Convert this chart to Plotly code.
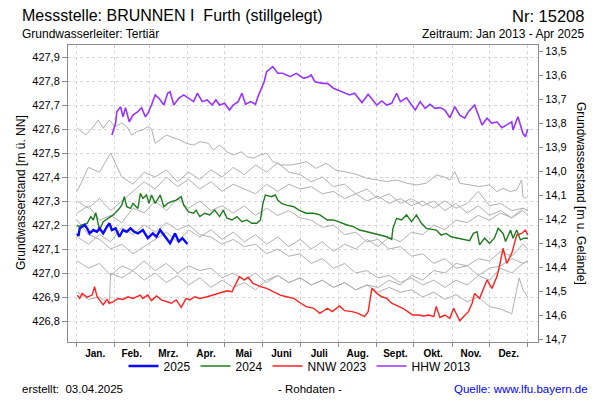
import plotly.graph_objects as go

# ---------------- data ----------------
MONTH_LABELS = ["Jan.", "Feb.", "Mrz.", "Apr.", "Mai", "Juni", "Juli", "Aug.", "Sept.", "Okt.", "Nov.", "Dez."]
MONTH_STARTS = [0, 31, 59, 90, 120, 151, 181, 212, 243, 273, 304, 334, 365]
GROUND = 441.425  # Geländehöhe [m ü. NN]

Y25_DAYS = [1, 2, 3, 5, 7, 9, 11, 14, 17, 19, 22, 25, 27, 29, 32, 35, 38, 41, 44, 47, 50, 54, 58, 62, 65, 68, 71, 76, 80, 83, 86, 90]
Y25_VALS = [427.165, 427.154, 427.186, 427.193, 427.200, 427.186, 427.165, 427.179, 427.172, 427.186, 427.165, 427.193,
            427.207, 427.179, 427.186, 427.151, 427.179, 427.172, 427.186, 427.172, 427.165, 427.179, 427.145, 427.165,
            427.151, 427.179, 427.158, 427.124, 427.165, 427.131, 427.145, 427.121]

Y24_DAYS = [1, 2, 5, 9, 12, 14, 16, 18, 19, 22, 26, 30, 34, 37, 39, 41, 44, 46, 50, 52, 54, 57, 59, 61, 64, 68, 71, 74,
            77, 81, 85, 87, 91, 95, 97, 100, 104, 108, 112, 116, 119, 122, 126, 130, 134, 138, 142, 146, 149, 151, 153,
            158, 161, 163, 166, 170, 176, 180, 186, 192, 197, 203, 208, 213, 219, 224, 229, 235, 240, 246, 251, 255,
            256, 259, 263, 267, 271, 275, 279, 283, 287, 291, 295, 299, 303, 308, 313, 318, 321, 324, 326, 330, 334,
            338, 341, 345, 347, 351, 353, 356, 359, 362, 365]
Y24_VALS = [427.200, 427.193, 427.200, 427.207, 427.235, 427.221, 427.251, 427.207, 427.179, 427.214, 427.228, 427.242,
            427.262, 427.283, 427.318, 427.276, 427.269, 427.290, 427.269, 427.332, 427.311, 427.325, 427.290, 427.325,
            427.290, 427.325, 427.276, 427.290, 427.297, 427.304, 427.318, 427.283, 427.255, 427.249, 427.262, 427.235,
            427.249, 427.242, 427.262, 427.235, 427.262, 427.228, 427.221, 427.235, 427.214, 427.221, 427.207, 427.207,
            427.221, 427.290, 427.325, 427.318, 427.325, 427.304, 427.290, 427.283, 427.276, 427.262, 427.249, 427.249,
            427.242, 427.221, 427.221, 427.210, 427.200, 427.193, 427.179, 427.172, 427.165, 427.158, 427.151, 427.140,
            427.186, 427.228, 427.221, 427.242, 427.214, 427.242, 427.207, 427.186, 427.182, 427.179, 427.158, 427.165,
            427.151, 427.145, 427.140, 427.135, 427.165, 427.172, 427.117, 427.145, 427.124, 427.145, 427.186, 427.165,
            427.131, 427.179, 427.145, 427.179, 427.138, 427.145, 427.145]

NNW_DAYS = [1, 3, 5, 9, 13, 15, 17, 19, 22, 25, 27, 30, 34, 38, 42, 46, 52, 54, 58, 61, 65, 69, 73, 77, 81, 85, 89, 92,
            96, 100, 106, 111, 116, 122, 126, 129, 132, 136, 139, 143, 149, 154, 159, 165, 170, 176, 181, 186, 192, 197,
            203, 207, 213, 217, 223, 228, 233, 236, 239, 243, 247, 251, 255, 260, 264, 268, 272, 277, 281, 285, 289,
            291, 294, 298, 302, 305, 308, 310, 313, 317, 320, 322, 326, 329, 332, 336, 340, 342, 345, 348, 352, 356,
            360, 363, 365]
NNW_VALS = [426.908, 426.894, 426.915, 426.899, 426.908, 426.943, 426.901, 426.888, 426.867, 426.890, 426.874, 426.880,
            426.894, 426.890, 426.901, 426.894, 426.908, 426.894, 426.908, 426.885, 426.904, 426.888, 426.880, 426.874,
            426.888, 426.857, 426.894, 426.888, 426.901, 426.894, 426.901, 426.908, 426.915, 426.926, 426.922, 426.957,
            426.985, 426.971, 426.982, 426.957, 426.943, 426.936, 426.922, 426.908, 426.901, 426.894, 426.876, 426.860,
            426.853, 426.832, 426.853, 426.839, 426.863, 426.843, 426.839, 426.832, 426.818, 426.839, 426.936, 426.915,
            426.901, 426.894, 426.874, 426.863, 426.853, 426.839, 426.825, 426.825, 426.821, 426.825, 426.818, 426.861,
            426.815, 426.825, 426.811, 426.853, 426.818, 426.801, 426.818, 426.839, 426.874, 426.915, 426.894, 426.929,
            426.971, 426.936, 426.985, 427.026, 427.103, 427.040, 427.082, 427.158, 427.165, 427.179, 427.158]

HHW_DAYS = [29, 32, 33, 36, 38, 40, 43, 46, 50, 53, 56, 58, 61, 64, 67, 71, 74, 76, 79, 83, 87, 91, 95, 98, 102, 106,
            110, 113, 116, 120, 124, 127, 131, 134, 137, 141, 145, 147, 150, 152, 154, 159, 163, 167, 173, 178, 184,
            188, 190, 193, 199, 203, 208, 212, 216, 221, 225, 231, 236, 243, 247, 251, 255, 259, 262, 267, 274, 278,
            282, 286, 290, 294, 298, 302, 306, 310, 314, 317, 322, 328, 332, 336, 340, 344, 348, 352, 353, 357, 361,
            363, 365]
HHW_VALS = [427.575, 427.624, 427.672, 427.693, 427.651, 427.689, 427.630, 427.658, 427.672, 427.689, 427.651, 427.665,
            427.700, 427.742, 427.728, 427.700, 427.749, 427.755, 427.700, 427.728, 427.742, 427.728, 427.714, 427.749,
            427.714, 427.721, 427.700, 427.721, 427.700, 427.707, 427.679, 427.700, 427.714, 427.749, 427.703, 427.714,
            427.703, 427.735, 427.769, 427.797, 427.839, 427.860, 427.832, 427.832, 427.818, 427.832, 427.811, 427.818,
            427.825, 427.797, 427.790, 427.790, 427.770, 427.762, 427.755, 427.742, 427.749, 427.710, 427.745, 427.700,
            427.717, 427.700, 427.707, 427.749, 427.714, 427.730, 427.679, 427.714, 427.686, 427.703, 427.686, 427.689,
            427.679, 427.647, 427.693, 427.658, 427.645, 427.672, 427.700, 427.617, 427.645, 427.624, 427.630, 427.605,
            427.617, 427.630, 427.596, 427.651, 427.582, 427.568, 427.600]

# other years (grey)
G1_DAYS = [1, 8, 14, 18, 22, 27, 31, 37, 41, 45, 49, 54, 58, 61, 64, 68, 73, 80, 84, 89, 95, 100, 107, 111, 116, 122,
           127, 134, 138, 143, 149, 154, 159, 165, 173, 181, 186, 194, 202, 210, 219, 224, 235, 243, 251, 259, 267,
           275, 283, 291, 297, 302, 306, 310, 318, 326, 334, 340, 345, 351, 356, 360, 361, 364]
G1_VALS = [427.603, 427.575, 427.610, 427.638, 427.603, 427.638, 427.610, 427.624, 427.610, 427.575, 427.589, 427.596,
           427.610, 427.600, 427.540, 427.554, 427.575, 427.561, 427.554, 427.540, 427.533, 427.547, 427.540, 427.512,
           427.533, 427.505, 427.492, 427.505, 427.485, 427.478, 427.492, 427.499, 427.464, 427.450, 427.450, 427.457,
           427.464, 427.436, 427.457, 427.429, 427.422, 427.415, 427.395, 427.388, 427.381, 427.388, 427.374, 427.367,
           427.374, 427.408, 427.401, 427.388, 427.422, 427.374, 427.367, 427.360, 427.367, 427.339, 427.353, 427.339,
           427.346, 427.388, 427.318, 427.311]

G_DAYS = [1, 10, 19, 28, 37, 46, 55, 64, 73, 82, 91, 100, 109, 118, 127, 136, 145, 154, 163, 172, 181, 190, 199, 208,
          217, 226, 235, 244, 253, 262, 271, 280, 289, 298, 307, 316, 325, 334, 343, 352, 361, 365]
G2_VALS = [427.34, 427.44, 427.42, 427.50, 427.40, 427.37, 427.42, 427.40, 427.43, 427.38, 427.42, 427.39, 427.43, 427.40,
           427.44, 427.41, 427.45, 427.42, 427.46, 427.42, 427.41, 427.38, 427.40, 427.36, 427.37, 427.33, 427.35, 427.31,
           427.33, 427.29, 427.31, 427.28, 427.30, 427.26, 427.29, 427.25, 427.28, 427.24, 427.26, 427.23, 427.26, 427.24]
G3_VALS = [427.30, 427.27, 427.31, 427.26, 427.30, 427.34, 427.38, 427.35, 427.40, 427.36, 427.39, 427.35, 427.38, 427.34,
           427.37, 427.35, 427.33, 427.37, 427.34, 427.37, 427.35, 427.36, 427.33, 427.34, 427.31, 427.33, 427.30, 427.32,
           427.29, 427.31, 427.28, 427.30, 427.27, 427.30, 427.27, 427.29, 427.34, 427.28, 427.29, 427.26, 427.27, 427.26]
G4_VALS = [427.25, 427.28, 427.22, 427.24, 427.21, 427.27, 427.25, 427.30, 427.26, 427.31, 427.27, 427.30, 427.26, 427.28,
           427.25, 427.28, 427.24, 427.27, 427.24, 427.26, 427.23, 427.22, 427.19, 427.20, 427.16, 427.17, 427.13, 427.14,
           427.10, 427.11, 427.07, 427.08, 427.04, 427.06, 427.02, 427.03, 426.99, 427.02, 427.03, 427.06, 427.04, 427.05]
G5_VALS = [427.22, 427.16, 427.14, 427.10, 427.12, 427.08, 427.11, 427.14, 427.17, 427.13, 427.18, 427.15, 427.18, 427.14,
           427.17, 427.13, 427.16, 427.12, 427.15, 427.11, 427.14, 427.10, 427.13, 427.09, 427.12, 427.10, 427.14, 427.11,
           427.15, 427.13, 427.17, 427.16, 427.20, 427.18, 427.22, 427.21, 427.24, 427.22, 427.25, 427.23, 427.27, 427.26]
G6_VALS = [427.05, 427.02, 427.04, 426.99, 427.03, 427.01, 427.05, 427.01, 427.04, 427.00, 427.03, 427.01, 427.02, 426.98,
           427.00, 426.97, 427.00, 426.96, 426.99, 426.96, 426.98, 426.95, 426.97, 426.94, 426.96, 426.93, 426.95, 426.94,
           426.97, 426.95, 426.99, 426.97, 427.01, 427.00, 427.04, 427.03, 427.06, 427.05, 427.09, 427.07, 427.12, 427.10]
G8_VALS = [427.15, 427.12, 427.16, 427.13, 427.19, 427.16, 427.20, 427.17, 427.21, 427.18, 427.20, 427.16, 427.15, 427.12,
           427.14, 427.11, 427.12, 427.08, 427.10, 427.07, 427.08, 427.04, 427.06, 427.02, 427.04, 427.00, 427.01, 426.98,
           426.99, 426.96, 426.98, 426.95, 426.97, 426.94, 426.97, 426.95, 426.99, 426.97, 427.02, 427.00, 427.04, 427.05]
G7_DAYS = [1, 10, 19, 27, 28, 37, 46, 55, 64, 73, 82, 91, 100, 109, 118, 127, 136, 145, 154, 163, 172, 181, 190, 199,
           208, 217, 226, 235, 244, 253, 262, 271, 280, 289, 298, 307, 316, 325, 334, 343, 352, 358, 361, 365]
G7_VALS = [426.92, 426.89, 426.90, 426.87, 427.00, 426.98, 427.01, 426.97, 427.00, 426.96, 426.99, 426.95, 426.98, 426.94,
           426.97, 426.94, 426.96, 426.93, 426.97, 426.99, 426.96, 426.98, 426.95, 426.97, 426.94, 426.96, 426.93, 426.95,
           426.92, 426.94, 426.92, 426.93, 426.90, 426.92, 426.89, 426.91, 426.88, 426.90, 426.86, 426.85, 426.83, 426.98,
           426.93, 426.90]

# ---------------- layout helpers ----------------
W, H = 600, 400
ML, MR, MT, MB = 68, 62, 45, 58
PW, PH = W - ML - MR, H - MT - MB
Y_RANGE = [426.7125, 427.95]
X_RANGE = [-6.46, 373.2]


def pxx(x):
    return (x - ML) / PW


def pxy(y):
    return (H - MB - y) / PH


FONT = "Liberation Sans, Arial, sans-serif"
GREY = "#b0b0b0"
GRID = "#d6d6d6"
FRAME = "#8c8c8c"

fig = go.Figure()

greys = [(G1_DAYS, G1_VALS), (G_DAYS, G2_VALS), (G_DAYS, G3_VALS), (G_DAYS, G4_VALS), (G_DAYS, G5_VALS),
         (G_DAYS, G6_VALS), (G7_DAYS, G7_VALS), (G_DAYS, G8_VALS)]
for d, v in greys:
    fig.add_trace(go.Scatter(x=d, y=v, mode="lines", line=dict(color=GREY, width=1),
                             showlegend=False, hoverinfo="skip"))

fig.add_trace(go.Scatter(x=HHW_DAYS, y=HHW_VALS, mode="lines", name="HHW 2013",
                         line=dict(color="#9933ff", width=1.6), legendrank=4))
fig.add_trace(go.Scatter(x=NNW_DAYS, y=NNW_VALS, mode="lines", name="NNW 2023",
                         line=dict(color="#ff2020", width=1.4), legendrank=3))
fig.add_trace(go.Scatter(x=Y24_DAYS, y=Y24_VALS, mode="lines", name="2024",
                         line=dict(color="#1e7a1e", width=1.4), legendrank=2))
fig.add_trace(go.Scatter(x=Y25_DAYS, y=Y25_VALS, mode="lines", name="2025",
                         line=dict(color="#0a0aff", width=2.4), legendrank=1))
# carrier for secondary axes (month labels / depth axis)
fig.add_trace(go.Scatter(x=[MONTH_STARTS[0]], y=[GROUND - Y_RANGE[0]], xaxis="x2", yaxis="y2",
                         mode="lines", line=dict(width=0), showlegend=False, hoverinfo="skip"))

mid_month = [(MONTH_STARTS[i] + MONTH_STARTS[i + 1]) / 2 for i in range(12)]

fig.update_layout(
    width=W, height=H,
    margin=dict(l=ML, r=MR, t=MT, b=MB),
    paper_bgcolor="white", plot_bgcolor="white",
    separators=",.",
    font=dict(family=FONT, size=11, color="black"),
    showlegend=True,
    legend=dict(orientation="h", x=pxx(300), xanchor="center", y=pxy(366), yanchor="middle",
                font=dict(size=12, family=FONT), itemwidth=30, tracegroupgap=0,
                bgcolor="rgba(0,0,0,0)"),
    xaxis=dict(range=X_RANGE, tickmode="array", tickvals=MONTH_STARTS, showticklabels=False,
               ticks="outside", ticklen=4, tickcolor=FRAME,
               showgrid=True, gridcolor=GRID, griddash="3px,3px", gridwidth=1,
               showline=True, linecolor=FRAME, linewidth=1, mirror=True, zeroline=False, fixedrange=True),
    xaxis2=dict(range=X_RANGE, overlaying="x", anchor="y", side="bottom", tickmode="array",
                tickvals=mid_month, ticktext=MONTH_LABELS, ticks="", showgrid=False, showline=False,
                zeroline=False, tickfont=dict(size=10, family=FONT, weight="bold"), ticklabelstandoff=4),
    yaxis=dict(range=Y_RANGE, tickmode="linear", tick0=426.8, dtick=0.1, tickformat=".1f",
               ticks="outside", ticklen=5, tickcolor=FRAME, tickfont=dict(size=11),
               showgrid=True, gridcolor=GRID, griddash="3px,3px", gridwidth=1,
               showline=True, linecolor=FRAME, linewidth=1, zeroline=False),
    yaxis2=dict(range=[GROUND - Y_RANGE[0], GROUND - Y_RANGE[1]], overlaying="y", anchor="x", side="right",
                tickmode="linear", tick0=13.5, dtick=0.1, tickformat=".1f",
                ticks="outside", ticklen=4, tickcolor=FRAME, tickfont=dict(size=11),
                showgrid=False, showline=True, linecolor=FRAME, linewidth=1, zeroline=False),
)

NB = "\u00a0"
annots = [
    dict(text=f"Messstelle: BRUNNEN I{NB}{NB}Furth (stillgelegt)", x=pxx(20), y=pxy(16), xanchor="left",
         font=dict(size=16)),
    dict(text="Nr: 15208", x=pxx(586), y=pxy(16), xanchor="right", font=dict(size=16.5)),
    dict(text="Grundwasserleiter: Tertiär", x=pxx(20), y=pxy(34), xanchor="left", font=dict(size=12)),
    dict(text="Zeitraum: Jan 2013 - Apr 2025", x=pxx(586), y=pxy(34), xanchor="right", font=dict(size=12)),
    dict(text="Grundwasserstand [m ü. NN]", x=pxx(21), y=pxy(193), xanchor="center", textangle=-90,
         font=dict(size=12)),
    dict(text="Grundwasserstand [m u. Gelände]", x=pxx(581), y=pxy(193), xanchor="center", textangle=90,
         font=dict(size=12)),
    dict(text=f"erstellt:{NB}{NB}03.04.2025", x=pxx(20), y=pxy(389), xanchor="left", font=dict(size=11.5)),
    dict(text="- Rohdaten -", x=pxx(310), y=pxy(389), xanchor="center", font=dict(size=11.5)),
    dict(text="Quelle: www.lfu.bayern.de", x=pxx(590), y=pxy(389), xanchor="right",
         font=dict(size=11.5, color="#0000ff")),
]
for a in annots:
    a.update(xref="paper", yref="paper", showarrow=False, yanchor="middle")
    a["font"] = dict(family=FONT, color=a["font"].get("color", "black"), size=a["font"]["size"])
    fig.add_annotation(**a)

fig.write_html("out.html")
